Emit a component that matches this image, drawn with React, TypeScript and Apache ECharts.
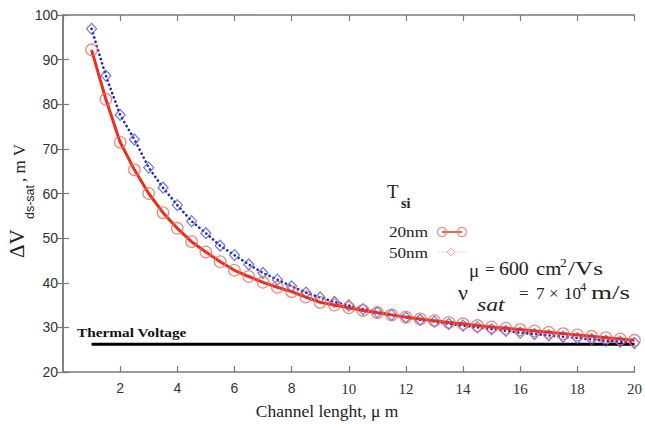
import React, { useEffect, useRef } from "react";
import * as echarts from "echarts";

const channelLength = [1, 1.5, 2, 2.5, 3, 3.5, 4, 4.5, 5, 5.5, 6, 6.5, 7, 7.5, 8, 8.5, 9, 9.5, 10, 10.5, 11, 11.5, 12, 12.5, 13, 13.5, 14, 14.5, 15, 15.5, 16, 16.5, 17, 17.5, 18, 18.5, 19, 19.5, 20];
const tsi20nm = [92.2, 81.1, 71.5, 65.3, 60.0, 55.7, 52.2, 49.2, 46.9, 44.7, 42.8, 41.4, 40.1, 39.0, 38.0, 36.8, 35.6, 35.0, 34.4, 33.8, 33.3, 32.8, 32.3, 31.9, 31.5, 31.1, 30.8, 30.4, 30.1, 29.8, 29.5, 29.2, 28.9, 28.6, 28.3, 28.0, 27.7, 27.4, 27.1];
const tsi50nm = [96.9, 86.4, 77.6, 72.1, 65.8, 61.3, 57.4, 53.8, 51.1, 48.3, 46.2, 44.1, 42.2, 40.7, 39.2, 37.8, 36.7, 35.7, 34.9, 34.1, 33.4, 32.8, 32.2, 31.7, 31.3, 30.8, 30.4, 30.0, 29.6, 29.2, 28.8, 28.5, 28.2, 27.9, 27.6, 27.3, 27.0, 26.8, 26.5];
const thermalX = [1, 20];
const thermalVoltage = [26.2, 26.2];
const legendNames = ["20nm", "50nm"];
const xMin = 0, xMax = 20, xStep = 2;
const yMin = 20, yMax = 100, yStep = 10;

const RED = "#e8301c";
const RED_MARK = "rgba(236,110,100,0.8)";
const BLUE = "#1c22c4";
const BLUE_MARK = "rgba(70,80,230,0.8)";
const AXIS = "#7a7a7a";
const INK = "#222";
const SERIF = "'Liberation Serif', 'Times New Roman', serif";
const SANS = "'Liberation Sans', 'DejaVu Sans', sans-serif";

function txt(text: string, x: number, y: number, size: number, extra: any = {}, elExtra: any = {}) {
  return {
    type: "text", x, y, ...elExtra,
    style: { text, fontFamily: SERIF, fontSize: size, fill: INK, align: "left", verticalAlign: "middle", ...extra },
  };
}

export default function App() {
  const ref = useRef<HTMLDivElement>(null);
  useEffect(() => {
    if (!ref.current) return;
    const chart = echarts.init(ref.current, undefined, { renderer: "svg" });
    const tickCommon = { show: true, inside: true, length: 6, lineStyle: { color: AXIS, width: 1.2 } };
    const axisLine = { show: true, lineStyle: { color: AXIS, width: 1.5 } };
    const rot = { rotation: Math.PI / 2 };
    chart.setOption({
      animation: false,
      backgroundColor: "#fff",
      grid: { left: 63, right: 6, top: 15, bottom: 52, containLabel: false },
      xAxis: [
        {
          type: "value", min: xMin, max: xMax, interval: xStep,
          axisLine, axisTick: tickCommon, splitLine: { show: false },
          axisLabel: {
            showMinLabel: false, margin: 9, color: "#333",
            formatter: (v: number) => (v < 10 ? `{s|${v}}` : `{r|${v}}`),
            rich: {
              s: { fontFamily: SANS, fontSize: 14, color: "#333" },
              r: { fontFamily: SERIF, fontSize: 15, color: "#333" },
            },
          },
        },
        {
          type: "value", min: xMin, max: xMax, interval: xStep, position: "top",
          axisLine, axisTick: tickCommon, axisLabel: { show: false }, splitLine: { show: false },
        },
      ],
      yAxis: [
        {
          type: "value", min: yMin, max: yMax, interval: yStep,
          axisLine, axisTick: tickCommon, splitLine: { show: false },
          axisLabel: { margin: 5, fontFamily: SANS, fontSize: 14, color: "#333" },
        },
        {
          type: "value", min: yMin, max: yMax, interval: yStep, position: "right",
          axisLine, axisTick: tickCommon, axisLabel: { show: false }, splitLine: { show: false },
        },
      ],
      series: [
        {
          name: "Thermal Voltage", type: "line", showSymbol: false, symbol: "none",
          data: thermalX.map((x, i) => [x, thermalVoltage[i]]),
          lineStyle: { color: "#000", width: 3 }, z: 1,
        },
        {
          name: legendNames[1], type: "line", symbol: "diamond", symbolSize: [10, 11], showAllSymbol: true,
          data: channelLength.map((x, i) => [x, tsi50nm[i]]),
          lineStyle: { color: BLUE, width: 2.6, type: [0.1, 4.4], cap: "round" },
          itemStyle: { color: "transparent", borderColor: BLUE_MARK, borderWidth: 1.2 },
          z: 2,
        },
        {
          name: legendNames[0], type: "line", symbol: "circle", symbolSize: 11.5, showAllSymbol: true,
          data: channelLength.map((x, i) => [x, tsi20nm[i]]),
          lineStyle: { color: RED, width: 3 },
          itemStyle: { color: "transparent", borderColor: RED_MARK, borderWidth: 1.3 },
          z: 3,
        },
      ],
      graphic: [
        // y-axis title (rotated)
        txt("ΔV", 17, 258, 21, {}, rot),
        txt("ds-sat", 30, 219, 12.5, { fontFamily: SANS }, rot),
        txt(", m V", 19, 182, 17, {}, rot),
        // x-axis title
        txt("Channel lenght, μ m", 327, 411, 17.5, { align: "center" }),
        // thermal voltage label
        txt("Thermal Voltage", 77, 332, 13, { fontWeight: "bold", fill: "#111" }, { scaleX: 1.18 }),
        // legend
        txt("T", 387, 191, 19),
        txt("si", 401, 203, 14, { fontWeight: "bold" }),
        txt(legendNames[0], 389, 232, 14.5, {}, { scaleX: 1.18 }),
        txt(legendNames[1], 389, 253, 14.5, {}, { scaleX: 1.18 }),
        { type: "line", shape: { x1: 442, y1: 232, x2: 462, y2: 232 }, style: { stroke: RED, lineWidth: 1.5 } },
        { type: "circle", shape: { cx: 442, cy: 232, r: 4.5 }, style: { fill: "none", stroke: RED_MARK, lineWidth: 1.2 } },
        { type: "circle", shape: { cx: 462, cy: 232, r: 4.5 }, style: { fill: "none", stroke: RED_MARK, lineWidth: 1.2 } },
        { type: "line", shape: { x1: 438, y1: 252, x2: 467, y2: 252 }, style: { stroke: "rgba(240,170,170,0.45)", lineWidth: 1 } },
        { type: "polygon", shape: { points: [[451, 248], [455, 252], [451, 256], [447, 252]] }, style: { fill: "none", stroke: "rgba(236,120,110,0.6)", lineWidth: 1 } },
        // mobility annotation
        txt("μ", 469, 270, 19),
        txt("=", 485, 269, 17),
        txt("600", 499, 269, 18, {}, { scaleX: 1.1 }),
        txt("cm", 536, 269, 18, {}, { scaleX: 1.15 }),
        txt("2", 560, 262, 13.5),
        txt("/Vs", 568, 269, 18, {}, { scaleX: 1.4 }),
        // saturation velocity annotation
        txt("ν", 458, 292, 22),
        txt("sat", 477, 305, 19, { fontStyle: "italic" }, { scaleX: 1.25 }),
        txt("=", 519, 293, 17),
        txt("7", 536, 293, 17),
        txt("×", 549, 293, 17),
        txt("10", 564, 293, 17),
        txt("4", 580, 287, 12.5),
        txt("m/s", 591, 293, 18, {}, { scaleX: 1.5 }),
      ],
    });
    return () => chart.dispose();
  }, []);
  return <div ref={ref} style={{ position: "fixed", left: 0, top: 0, width: 645, height: 424 }} />;
}
